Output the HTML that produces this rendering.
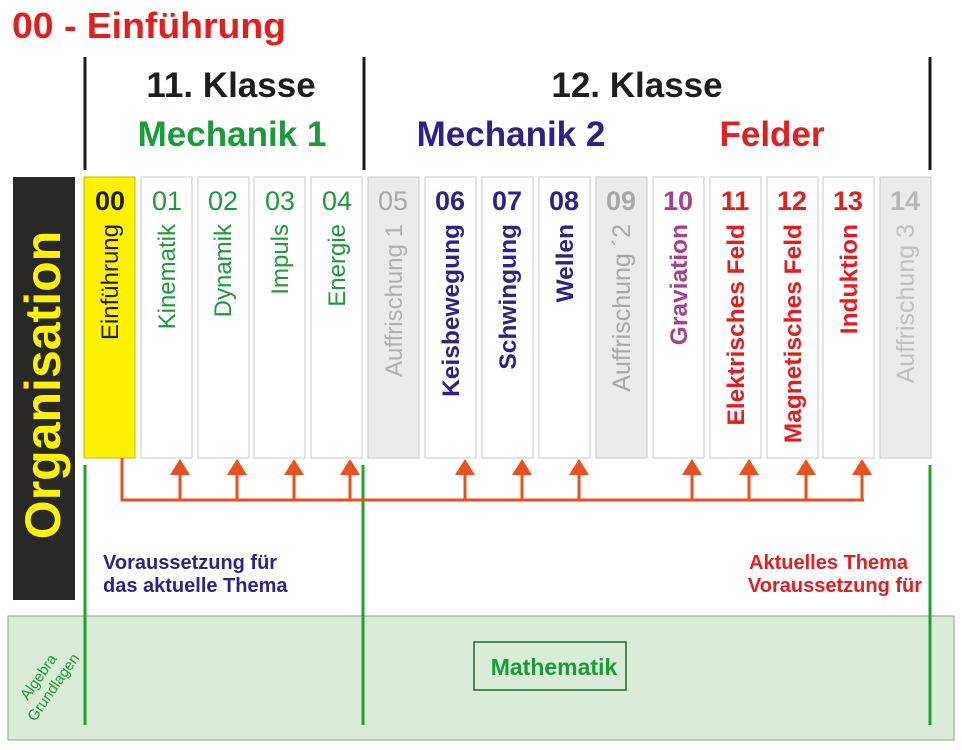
<!DOCTYPE html>
<html><head><meta charset="utf-8"><style>html,body{margin:0;padding:0;background:#fff}svg{display:block}</style></head>
<body>
<svg width="962" height="750" viewBox="0 0 962 750" xmlns="http://www.w3.org/2000/svg" font-family="Liberation Sans, sans-serif">
<rect width="962" height="750" fill="#fff"/>
<text x="12" y="38" font-size="36" font-weight="bold" fill="#e21f1f" textLength="274" lengthAdjust="spacingAndGlyphs">00 - Einführung</text>
<g stroke="#1a1a1a" stroke-width="3">
<line x1="85" y1="57" x2="85" y2="170"/><line x1="364" y1="57" x2="364" y2="170"/><line x1="930" y1="57" x2="930" y2="170"/>
</g>
<g font-size="35" font-weight="bold" text-anchor="middle">
<text x="231" y="97" fill="#1e1e1e">11. Klasse</text>
<text x="637" y="97" fill="#1e1e1e">12. Klasse</text>
<text x="232" y="146" fill="#1b9a3a">Mechanik 1</text>
<text x="511" y="146" fill="#30208c">Mechanik 2</text>
<text x="772" y="146" fill="#e21f1f">Felder</text>
</g>
<rect x="13" y="177" width="62" height="423" fill="#2a2826"/>
<text transform="translate(60,385) rotate(-90)" text-anchor="middle" font-size="50" font-weight="bold" fill="#fff200">Organisation</text>
<rect x="8" y="616" width="946" height="124" fill="#d9ecd6" stroke="#9a9a9a" stroke-width="1"/>
<text transform="translate(50,685) rotate(-55)" text-anchor="middle" font-size="15" fill="#1b9a3a"><tspan x="0" y="-9">Algebra</tspan><tspan x="0" y="9">Grundlagen</tspan></text>
<rect x="474" y="642" width="152" height="48" fill="none" stroke="#1a6a2a" stroke-width="1.5"/>
<text x="554" y="675" text-anchor="middle" font-size="23" font-weight="bold" fill="#1b9a3a">Mathematik</text>
<g font-size="20" font-weight="bold">
<text x="103" y="569" fill="#30208c">Voraussetzung für</text>
<text x="103" y="592" fill="#30208c">das aktuelle Thema</text>
<text x="908" y="569" fill="#e21f1f" text-anchor="end">Aktuelles Thema</text>
<text x="922" y="592" fill="#e21f1f" text-anchor="end">Voraussetzung für</text>
</g>
<g stroke="#1fa32a" stroke-width="3">
<line x1="85" y1="465" x2="85" y2="725"/><line x1="363" y1="465" x2="363" y2="725"/><line x1="930" y1="465" x2="930" y2="725"/>
</g>
<g stroke="#c8c8c8" stroke-width="1">
<rect x="84" y="177" width="51" height="281" fill="#fff200" stroke="#c8b800"/>
<rect x="141" y="177" width="51" height="281" fill="#fff"/>
<rect x="198" y="177" width="51" height="281" fill="#fff"/>
<rect x="254" y="177" width="51" height="281" fill="#fff"/>
<rect x="311" y="177" width="51" height="281" fill="#fff"/>
<rect x="368" y="177" width="51" height="281" fill="#ebebeb"/>
<rect x="425" y="177" width="51" height="281" fill="#fff"/>
<rect x="482" y="177" width="51" height="281" fill="#fff"/>
<rect x="539" y="177" width="51" height="281" fill="#fff"/>
<rect x="596" y="177" width="51" height="281" fill="#ebebeb"/>
<rect x="653" y="177" width="51" height="281" fill="#fff"/>
<rect x="710" y="177" width="51" height="281" fill="#fff"/>
<rect x="767" y="177" width="51" height="281" fill="#fff"/>
<rect x="823" y="177" width="51" height="281" fill="#fff"/>
<rect x="880" y="177" width="51" height="281" fill="#ebebeb"/>
</g>
<g font-size="27" text-anchor="middle">
<text x="110" y="210" font-weight="bold" fill="#1e1e1e">00</text>
<text x="167" y="210" fill="#1b9a3a">01</text>
<text x="223" y="210" fill="#1b9a3a">02</text>
<text x="280" y="210" fill="#1b9a3a">03</text>
<text x="337" y="210" fill="#1b9a3a">04</text>
<text x="393" y="210" fill="#a8a8a8">05</text>
<text x="450" y="210" font-weight="bold" fill="#30208c">06</text>
<text x="507" y="210" font-weight="bold" fill="#30208c">07</text>
<text x="564" y="210" font-weight="bold" fill="#30208c">08</text>
<text x="621" y="210" font-weight="bold" fill="#a8a8a8">09</text>
<text x="678" y="210" font-weight="bold" fill="#a8408c">10</text>
<text x="735" y="210" font-weight="bold" fill="#e21f1f">11</text>
<text x="792" y="210" font-weight="bold" fill="#e21f1f">12</text>
<text x="848" y="210" font-weight="bold" fill="#e21f1f">13</text>
<text x="905" y="210" font-weight="bold" fill="#b8b8b8">14</text>
</g>
<g font-size="24" text-anchor="end">
<text transform="translate(118,224) rotate(-90)" fill="#1e1e1e">Einführung</text>
<text transform="translate(175,224) rotate(-90)" fill="#1b9a3a">Kinematik</text>
<text transform="translate(231,224) rotate(-90)" fill="#1b9a3a">Dynamik</text>
<text transform="translate(288,224) rotate(-90)" fill="#1b9a3a">Impuls</text>
<text transform="translate(345,224) rotate(-90)" fill="#1b9a3a">Energie</text>
<text transform="translate(402,224) rotate(-90)" fill="#b0b0b0">Auffrischung 1</text>
</g>
<g font-size="24.5" font-weight="bold" text-anchor="end">
<text transform="translate(459,224) rotate(-90)" fill="#30208c">Keisbewegung</text>
<text transform="translate(516,224) rotate(-90)" fill="#30208c">Schwingung</text>
<text transform="translate(573,224) rotate(-90)" fill="#30208c">Wellen</text>
<text transform="translate(630,224) rotate(-90)" fill="#a8a8a8" font-weight="normal" font-size="25">Auffrischung ´2</text>
<text transform="translate(687,224) rotate(-90)" fill="#a8408c">Graviation</text>
<text transform="translate(744,224) rotate(-90)" fill="#e21f1f">Elektrisches Feld</text>
<text transform="translate(801,224) rotate(-90)" fill="#e21f1f">Magnetisches Feld</text>
<text transform="translate(857,224) rotate(-90)" fill="#e21f1f">Induktion</text>
<text transform="translate(914,224) rotate(-90)" fill="#c0c0c0" font-weight="normal" font-size="25">Auffrischung 3</text>
</g>
<g stroke="#e8501e" stroke-width="3" fill="none">
<polyline points="122,458 122,500 864,500"/>
<line x1="180" y1="500" x2="180" y2="470"/><line x1="237" y1="500" x2="237" y2="470"/>
<line x1="294" y1="500" x2="294" y2="470"/><line x1="350" y1="500" x2="350" y2="470"/>
<line x1="465" y1="500" x2="465" y2="470"/><line x1="522" y1="500" x2="522" y2="470"/>
<line x1="579" y1="500" x2="579" y2="470"/><line x1="692" y1="500" x2="692" y2="470"/>
<line x1="749" y1="500" x2="749" y2="470"/><line x1="806" y1="500" x2="806" y2="470"/>
<line x1="862" y1="500" x2="862" y2="470"/>
</g>
<g fill="#e8501e">
<polygon points="180,459 170,475 190,475"/><polygon points="237,459 227,475 247,475"/>
<polygon points="294,459 284,475 304,475"/><polygon points="350,459 340,475 360,475"/>
<polygon points="465,459 455,475 475,475"/><polygon points="522,459 512,475 532,475"/>
<polygon points="579,459 569,475 589,475"/><polygon points="692,459 682,475 702,475"/>
<polygon points="749,459 739,475 759,475"/><polygon points="806,459 796,475 816,475"/>
<polygon points="862,459 852,475 872,475"/>
</g>
</svg>
</body></html>
